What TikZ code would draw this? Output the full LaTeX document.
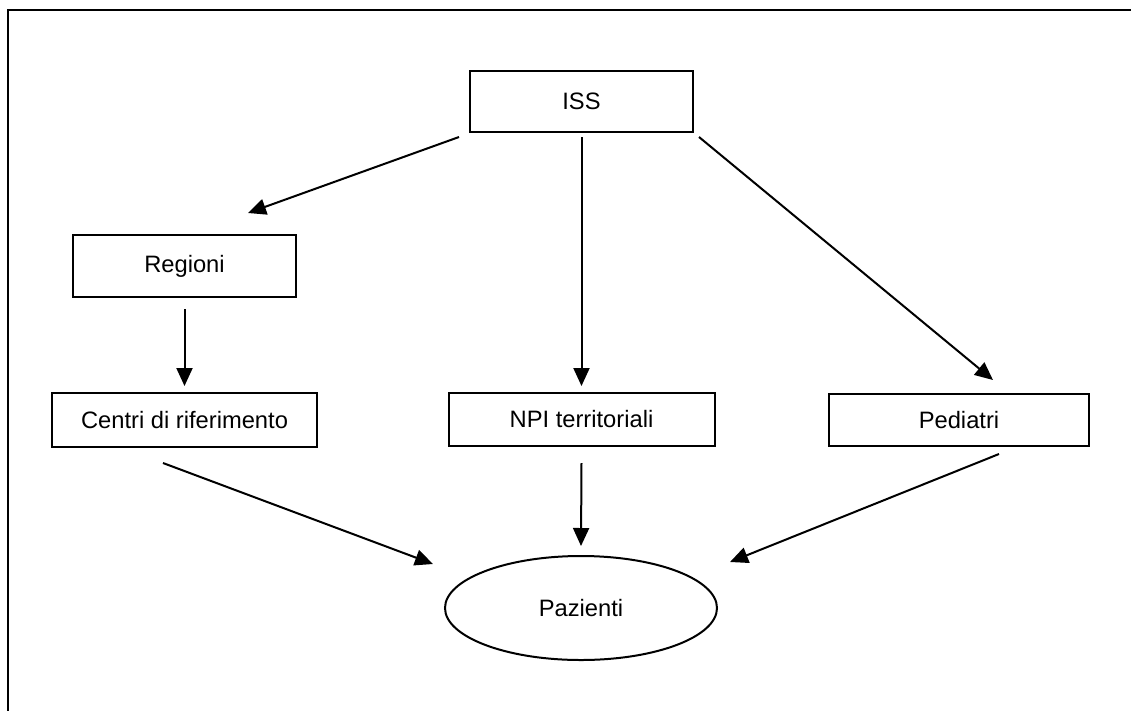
\documentclass[tikz,border=0pt]{standalone}
\usepackage{fontspec}
\setmainfont{Liberation Sans}
\usetikzlibrary{arrows.meta,shapes.geometric}
\begin{document}
\begin{tikzpicture}[line width=0.04cm,
  every node/.style={font=\fontsize{13.5}{16}\selectfont},
  box/.style={draw,rectangle,inner sep=0pt},
  arr/.style={-{Triangle[length=0.36cm,width=0.32cm]}}]
  \useasboundingbox (0,0) rectangle (22.62,-14.22);
  \draw (22.62,-0.2) -- (0.16,-0.2) -- (0.16,-14.22);
  \node [box,minimum width=4.46cm,minimum height=1.22cm] (iss) at (11.63,-2.03) {ISS};
  \node [box,minimum width=4.46cm,minimum height=1.24cm] (reg) at (3.69,-5.32) {Regioni};
  \node [box,minimum width=5.30cm,minimum height=1.08cm] (cen) at (3.69,-8.40) {Centri di riferimento};
  \node [box,minimum width=5.32cm,minimum height=1.06cm] (npi) at (11.63,-8.39) {NPI territoriali};
  \node [box,minimum width=5.20cm,minimum height=1.04cm] (ped) at (19.18,-8.40) {Pediatri};
  \node [draw,ellipse,inner sep=0pt,minimum width=5.44cm,minimum height=2.08cm] (paz) at (11.62,-12.16) {Pazienti};
  \draw [arr] ([xshift=-0.2cm,yshift=-0.08cm]iss.south west) -- ([xshift=1.27cm,yshift=0.42cm]reg.north);
  \draw [arr] ([yshift=-0.08cm]iss.south) -- ([yshift=0.12cm]npi.north);
  \draw [arr] ([xshift=0.1cm,yshift=-0.08cm]iss.south east) -- ([xshift=0.68cm,yshift=0.26cm]ped.north);
  \draw [arr] ([yshift=-0.22cm]reg.south) -- ([yshift=0.12cm]cen.north);
  \draw [arr] ([xshift=-0.43cm,yshift=-0.30cm]cen.south) -- ([xshift=-2.96cm,yshift=-0.18cm]paz.north);
  \draw [arr] ([yshift=-0.32cm]npi.south) -- ([yshift=0.18cm]paz.north);
  \draw [arr] ([xshift=0.8cm,yshift=-0.14cm]ped.south) -- ([xshift=2.98cm,yshift=-0.14cm]paz.north);
\end{tikzpicture}
\end{document}
